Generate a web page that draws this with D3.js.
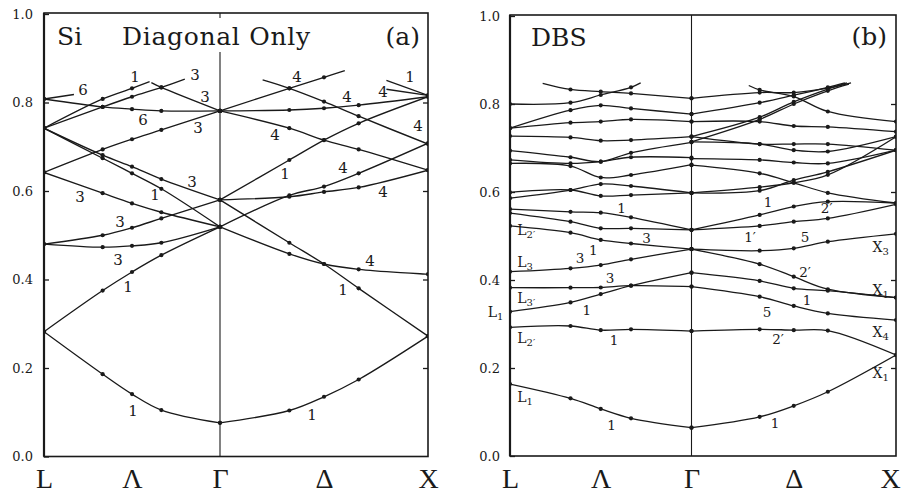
<!DOCTYPE html>
<html><head><meta charset="utf-8">
<script src="https://cdn.jsdelivr.net/npm/d3@7"></script>
<style>
body{margin:0;background:#fff}
svg{display:block}
</style>
</head><body>
<svg id="chart" width="901" height="493"></svg>
<script>
// ---------- data ----------
// Path coordinate k: 0 = L, 1 = Γ, 2 = X (each band point is [k within its segment, frequency])
const yTicks = [0, 0.2, 0.4, 0.6, 0.8, 1.0];
const symK = [0, 0.5, 1, 1.5, 2];
const symNames = ["L", "Λ", "Γ", "Δ", "X"];
const gridK = [0, 1/3, 1/2, 2/3, 1];

// (a) Si, diagonal only — Λ direction (L → Γ)
const siLambda = [
  [[0,.282],[1/3,.186],[.5,.141],[2/3,.105],[1,.076]],
  [[0,.282],[1/3,.375],[.5,.417],[2/3,.455],[1,.519]],
  [[0,.480],[1/3,.473],[.5,.476],[2/3,.483],[1,.519]],
  [[0,.480],[1/3,.500],[.5,.517],[2/3,.538],[1,.580]],
  [[0,.642],[1/3,.595],[.5,.572],[2/3,.552],[1,.519]],
  [[0,.742],[1/3,.681],[.5,.655],[2/3,.627],[1,.580]],
  [[0,.742],[1/3,.674],[.5,.640],[2/3,.605],[1,.519]],
  [[0,.642],[1/3,.694],[.5,.717],[2/3,.738],[1,.781]],
  [[0,.808],[1/3,.790],[.5,.785],[2/3,.781],[1,.781]],
  [[0,.742],[1/3,.790],[.5,.813],[2/3,.834],[.80,.853]],
  [[0,.742],[1/3,.808],[.5,.832],[.60,.847]],
  [[.61,.845],[2/3,.834],[1,.781]],
  [[0,.808],[.17,.818]]
];
// (a) Δ direction (Γ → X)
const siDelta = [
  [[0,.076],[1/3,.104],[.5,.135],[2/3,.174],[1,.272]],
  [[0,.580],[1/3,.483],[.5,.435],[2/3,.380],[1,.272]],
  [[0,.519],[1/3,.458],[.5,.435],[2/3,.423],[1,.412]],
  [[0,.519],[1/3,.590],[.5,.610],[2/3,.640],[1,.708]],
  [[0,.580],[1/3,.587],[.5,.598],[2/3,.608],[1,.647]],
  [[0,.580],[1/3,.670],[.5,.715],[2/3,.753],[1,.813]],
  [[0,.781],[1/3,.742],[.5,.715],[2/3,.694],[1,.647]],
  [[0,.781],[1/3,.783],[.5,.787],[2/3,.794],[1,.813]],
  [[.205,.851],[1/3,.832],[.5,.802],[2/3,.769],[1,.706]],
  [[0,.781],[1/3,.832],[.5,.857],[.60,.872]],
  [[.80,.850],[1,.816]],
  [[.80,.830],[1,.816]]
];
// (a) branch labels: [k, frequency, text]
const siTags = [
  [0.517,.858,"1"],[0.858,.862,"3"],[0.222,.828,"6"],[0.915,.812,"3"],
  [0.5625,.760,"6"],[0.875,.742,"3"],[0.841,.620,"3"],[0.631,.591,"1"],
  [0.2045,.586,"3"],[0.432,.530,"3"],[0.420,.444,"3"],[0.477,.383,"1"],
  [0.506,.103,"1"],
  [1.370,.858,"4"],[1.611,.812,"4"],[1.952,.747,"4"],[1.264,.727,"4"],
  [1.3125,.638,"1"],[1.591,.652,"4"],[1.784,.598,"4"],[1.7215,.442,"4"],
  [1.591,.376,"1"],[1.442,.094,"1"],[1.913,.858,"1"],[1.784,.824,"4"]
];

// (b) DBS — Λ direction (L → Γ)
const dbsLambda = [
  [[0,.1636],[1/3,.131],[.5,.107],[2/3,.0857],[1,.0644]],
  [[0,.2925],[1/3,.2955],[.5,.286],[2/3,.288],[1,.284]],
  [[0,.328],[1/3,.349],[.5,.368],[2/3,.387],[1,.4166]],
  [[0,.3825],[1/3,.3825],[.5,.383],[2/3,.387],[1,.385]],
  [[0,.419],[1/3,.4266],[.5,.434],[2/3,.447],[1,.470]],
  [[0,.523],[1/3,.5075],[.5,.491],[2/3,.483],[1,.470]],
  [[0,.552],[1/3,.5325],[.5,.5175],[2/3,.5175],[1,.514]],
  [[0,.561],[1/3,.555],[.5,.553],[2/3,.5425],[1,.514]],
  [[0,.586],[1/3,.6045],[.5,.618],[2/3,.6136],[1,.598]],
  [[0,.599],[1/3,.6045],[.5,.591],[2/3,.593],[1,.598]],
  [[0,.665],[1/3,.659],[.5,.633],[2/3,.6386],[1,.662]],
  [[0,.673],[1/3,.665],[.5,.669],[2/3,.679],[1,.678]],
  [[0,.694],[1/3,.679],[.5,.669],[2/3,.689],[1,.713]],
  [[0,.727],[1/3,.724],[.5,.7166],[2/3,.718],[1,.7257]],
  [[0,.745],[1/3,.7575],[.5,.760],[2/3,.765],[1,.760]],
  [[0,.745],[1/3,.786],[.5,.797],[2/3,.790],[1,.777]],
  [[0,.800],[1/3,.803],[.5,.8205],[2/3,.838],[.72,.848]],
  [[.18,.847],[1/3,.833],[.5,.828],[2/3,.824],[1,.813]]
];
// (b) Δ direction (Γ → X)
const dbsDelta = [
  [[0,.813],[1/3,.826],[.5,.826],[2/3,.836],[.78,.848]],
  [[.28,.842],[1/3,.832],[.5,.817],[2/3,.783],[1,.760]],
  [[0,.777],[1/3,.803],[.5,.820],[2/3,.838],[.75,.848]],
  [[0,.726],[1/3,.770],[.5,.805],[2/3,.834],[.76,.848]],
  [[0,.714],[1/3,.765],[.5,.800],[2/3,.830],[.77,.845]],
  [[0,.760],[1/3,.760],[.5,.750],[2/3,.748],[1,.737]],
  [[0,.726],[1/3,.709],[.5,.709],[2/3,.709],[1,.695]],
  [[0,.714],[1/3,.709],[.5,.695],[2/3,.692],[1,.7257]],
  [[0,.676],[1/3,.673],[.5,.667],[2/3,.665],[1,.695]],
  [[0,.661],[1/3,.6425],[.5,.621],[2/3,.598],[1,.575]],
  [[0,.598],[1/3,.603],[.5,.627],[2/3,.646],[1,.695]],
  [[0,.598],[1/3,.611],[.5,.621],[2/3,.639],[1,.7257]],
  [[0,.514],[1/3,.548],[.5,.567],[2/3,.578],[1,.575]],
  [[0,.514],[1/3,.523],[.5,.5325],[2/3,.540],[1,.572]],
  [[0,.470],[1/3,.4666],[.5,.472],[2/3,.487],[1,.505]],
  [[0,.470],[1/3,.436],[.5,.4075],[2/3,.379],[1,.360]],
  [[0,.4166],[1/3,.398],[.5,.381],[2/3,.3757],[1,.360]],
  [[0,.385],[1/3,.362],[.5,.341],[2/3,.324],[1,.309]],
  [[0,.284],[1/3,.288],[.5,.286],[2/3,.285],[1,.2295]],
  [[0,.0644],[1/3,.089],[.5,.114],[2/3,.146],[1,.2295]]
];
// (b) branch labels: [k, frequency, text]
const dbsTags = [
  [0.615,.563,"1"],[0.753,.495,"3"],[0.386,.449,"3"],[0.459,.468,"1"],
  [0.551,.404,"3"],[0.4226,.332,"1"],[0.573,.2636,"1"],[0.560,.0705,"1"],
  [1.374,.578,"1"],[1.661,.563,"2′"],[1.286,.498,"1′"],[1.555,.498,"5"],
  [1.555,.418,"2′"],[1.565,.3545,"1"],[1.369,.327,"5"],[1.423,.266,"2′"],
  [1.408,.075,"1"]
];
// (b) symmetry-point levels: [k, frequency, letter, subscript, anchor]
const dbsPointTags = [
  [0.04,.5136,"L","2′","start"],[0.04,.4416,"L","3","start"],
  [0.04,.359,"L","3′","start"],[-0.036,.328,"L","1","end"],
  [0.04,.268,"L","2′","start"],[0.04,.134,"L","1","start"],
  [1.965,.475,"X","3","end"],[1.965,.377,"X","1","end"],
  [1.965,.282,"X","4","end"],[1.965,.189,"X","1","end"]
];

// ---------- drawing ----------
const svg = d3.select("#chart");
const SERIF = "'DejaVu Serif', 'Liberation Serif', serif";
const TIMES = "'Liberation Serif', 'DejaVu Serif', serif";
const INK = "#1a1a1a";

function drawPanel(o) {
  const x = d3.scaleLinear().domain([0, 1, 2]).range([o.left, o.gamma, o.right]);
  const y = d3.scaleLinear().domain([0, 1]).range([o.bottom, o.top1]);
  const g = svg.append("g");

  const clipId = "clip-" + o.id;
  g.append("clipPath").attr("id", clipId)
    .append("rect").attr("x", o.left).attr("y", o.frameTop)
    .attr("width", o.right - o.left).attr("height", o.bottom - o.frameTop);

  // Γ divider
  g.append("line").attr("x1", o.gamma).attr("x2", o.gamma)
    .attr("y1", o.bottom).attr("y2", o.gammaTop)
    .attr("stroke", INK).attr("stroke-width", 1.1);
  if (o.gammaTop > o.frameTop + 2) {
    g.append("line").attr("x1", o.gamma).attr("x2", o.gamma)
      .attr("y1", o.frameTop).attr("y2", o.frameTop + 5)
      .attr("stroke", INK).attr("stroke-width", 1.1);
  }

  const line = d3.line()
    .x(d => x(d[0])).y(d => y(d[1]))
    .curve(d3.curveCatmullRom.alpha(0.5));

  const bands = [];
  o.lambda.forEach(b => bands.push(b.map(p => [p[0], p[1]])));
  o.delta.forEach(b => bands.push(b.map(p => [1 + p[0], p[1]])));

  const bandG = g.append("g").attr("clip-path", `url(#${clipId})`);
  bandG.selectAll("path.band").data(bands).join("path")
    .attr("class", "band")
    .attr("d", line)
    .attr("fill", "none").attr("stroke", INK)
    .attr("stroke-width", o.lw).attr("stroke-linejoin", "round");

  // sample points on the grid
  const onGrid = k => {
    const f = k > 1 ? k - 1 : k;
    return gridK.some(q => Math.abs(f - q) < 1e-6);
  };
  const dots = [];
  bands.forEach(b => b.forEach(p => { if (onGrid(p[0])) dots.push(p); }));
  bandG.selectAll("circle").data(dots).join("circle")
    .attr("cx", d => x(d[0])).attr("cy", d => y(d[1]))
    .attr("r", 2.1).attr("fill", INK);

  // frame
  g.append("rect").attr("x", o.left).attr("y", o.frameTop)
    .attr("width", o.right - o.left).attr("height", o.bottom - o.frameTop)
    .attr("fill", "none").attr("stroke", INK).attr("stroke-width", 1.6);
  g.append("line").attr("x1", o.left).attr("x2", o.left)
    .attr("y1", o.frameTop).attr("y2", o.bottom)
    .attr("stroke", INK).attr("stroke-width", 2.2);

  // left axis with inward ticks
  const ax = g.append("g").attr("transform", `translate(${o.left},0)`)
    .call(d3.axisLeft(y).tickValues(yTicks).tickSize(-5).tickPadding(o.pad)
      .tickFormat(d3.format(".1f")));
  ax.select(".domain").remove();
  ax.selectAll("line").attr("stroke", INK).attr("stroke-width", 1.3);
  ax.selectAll("text").attr("font-family", SERIF).attr("font-size", 13)
    .attr("fill", INK);

  // right axis, ticks only
  const ar = g.append("g").attr("transform", `translate(${o.right},0)`)
    .call(d3.axisRight(y).tickValues(yTicks.slice(1, -1)).tickSize(-5).tickFormat(""));
  ar.select(".domain").remove();
  ar.selectAll("line").attr("stroke", INK).attr("stroke-width", 1.3);

  // symmetry points along the path
  const ab = g.append("g").attr("transform", `translate(0,${o.bottom})`)
    .call(d3.axisBottom(x).tickValues(symK).tickSize(0).tickPadding(12)
      .tickFormat((d, i) => symNames[i]));
  ab.select(".domain").remove();
  ab.selectAll("text").attr("font-family", TIMES).attr("font-size", 28)
    .attr("fill", INK)
    .attr("dx", (d, i) => i === symK.length - 1 ? o.lastDx : 0);

  // branch labels
  g.append("g").selectAll("text").data(o.tags).join("text")
    .attr("x", d => x(d[0])).attr("y", d => y(d[1]))
    .attr("text-anchor", "middle").attr("dominant-baseline", "central")
    .attr("font-family", SERIF).attr("font-size", o.tagSize)
    .attr("fill", INK).text(d => d[2]);

  return { x, y, g };
}

const pa = drawPanel({
  id: "a", left: 44, gamma: 220, right: 428, bottom: 456.5, top1: 14,
  frameTop: 13, gammaTop: 52, lambda: siLambda, delta: siDelta,
  tags: siTags, tagSize: 15, lw: 1.35, pad: 11, lastDx: 0
});
const pb = drawPanel({
  id: "b", left: 510, gamma: 691.5, right: 896, bottom: 456, top1: 16,
  frameTop: 15, gammaTop: 15, lambda: dbsLambda, delta: dbsDelta,
  tags: dbsTags, tagSize: 13.5, lw: 1.3, pad: 10, lastDx: -6
});

// panel titles
const titleStyle = sel => sel.attr("font-family", SERIF).attr("font-size", 25).attr("fill", INK);
pa.g.append("text").attr("x", 57).attr("y", 45).text("Si").call(titleStyle);
pa.g.append("text").attr("x", 122).attr("y", 45).attr("textLength", 188)
  .text("Diagonal Only").call(titleStyle);
pa.g.append("text").attr("x", 420).attr("y", 45).attr("text-anchor", "end").text("(a)").call(titleStyle);
pb.g.append("text").attr("x", 531).attr("y", 46).text("DBS").call(titleStyle);
pb.g.append("text").attr("x", 887).attr("y", 45).attr("text-anchor", "end").text("(b)").call(titleStyle);

// symmetry-point level labels in (b)
pb.g.append("g").selectAll("text").data(dbsPointTags).join("text")
  .attr("x", d => pb.x(d[0])).attr("y", d => pb.y(d[1]))
  .attr("text-anchor", d => d[4]).attr("dominant-baseline", "central")
  .attr("font-family", SERIF).attr("font-size", 14).attr("fill", INK)
  .each(function(d) {
    const t = d3.select(this);
    t.append("tspan").text(d[2]);
    t.append("tspan").attr("font-size", 10).attr("dy", 4).text(d[3]);
  });
</script>
</body></html>
